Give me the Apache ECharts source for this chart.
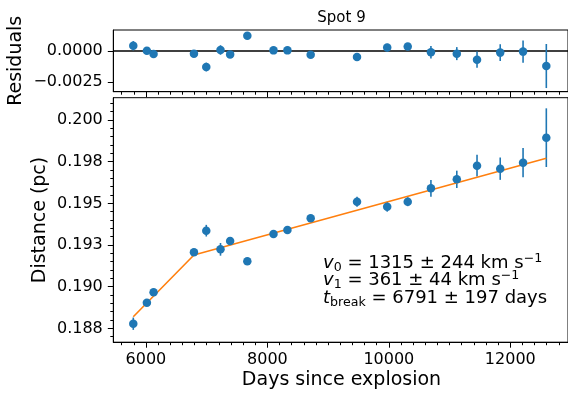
<!DOCTYPE html>
<html><head><meta charset="utf-8">
<script src="https://cdn.jsdelivr.net/npm/echarts@6/dist/echarts.min.js"></script>
<style>html,body{margin:0;padding:0;background:#fff}#c{width:568px;height:393px}</style>
</head><body><div id="c"></div>
<script>
// ---- data ----
const days = [5792, 6016, 6126, 6791, 6994, 7228, 7387, 7670, 8101, 8330, 8713, 9476, 9973, 10311, 10693, 11119, 11452, 11834, 12210, 12593];
const distance = [0.18778, 0.18904, 0.18966, 0.19206, 0.19336, 0.19224, 0.19274, 0.19152, 0.19316, 0.19340, 0.19410, 0.19510, 0.19480, 0.19510, 0.19590, 0.19644, 0.19726, 0.19708, 0.19744, 0.19894];
const distErr = [0.00037, 0.0002, 0.0002, 0.0002, 0.00035, 0.00038, 0.0002, 0.0002, 0.00012, 0.00012, 0.00015, 0.0003, 0.0003, 0.00027, 0.0005, 0.00052, 0.00065, 0.00067, 0.00088, 0.00176];
const residuals = [0.00042, 0.00002, -0.00024, -0.00021, -0.00128, 0.00008, -0.00027, 0.00122, 0.00005, 0.00005, -0.0003, -0.00048, 0.00027, 0.00035, -0.0001, -0.00021, -0.00069, -0.00013, -0.00005, -0.0012];
const fitDays = [5792, 6791, 12593];
const fitDist = [0.1882, 0.1919, 0.1977];

const xTicks = [6000, 8000, 10000, 12000];
const xTickLabels = ['6000', '8000', '10000', '12000'];
const yTicks = [0.1875, 0.19, 0.1925, 0.195, 0.1975, 0.2];
const yTickLabels = ['0.188', '0.190', '0.193', '0.195', '0.198', '0.200'];
const rTicks = [-0.0025, 0];
const rTickLabels = ['\u22120.0025', '0.0000'];

// ---- layout ----
const X_MIN = 5463, X_MAX = 12950;
const Y_MIN = 0.18667, Y_MAX = 0.201338;
const R_MIN = -0.003251, R_MAX = 0.001677;
const FONT = 'DejaVu Sans';
const BLUE = '#1f77b4', ORANGE = '#ff7f0e';
const GRID_LEFT = 113.3, LABEL_MARGIN = 10.5;

const xMinor = []; for (let v = 5600; v <= 12800; v += 200) xMinor.push(v);
const yMinor = []; for (let k = 0; k <= 30; k++) { const v = +(0.187 + k * 0.0005).toFixed(4); if (v > Y_MIN && v < Y_MAX) yMinor.push(v); }

function pickLabel(vals, labels) {
  return function (v) {
    v = Number(v);
    let bi = 0, bd = Infinity;
    vals.forEach((t, i) => { const d = Math.abs(t - v); if (d < bd) { bd = d; bi = i; } });
    return labels[bi];
  };
}

const chart = echarts.init(document.getElementById('c'), null, { renderer: 'canvas' });

function xAxisMajor(grid, showLabels) {
  return {
    type: 'value', gridIndex: grid, min: X_MIN, max: X_MAX, position: 'bottom',
    axisLine: { show: true, onZero: false, lineStyle: { color: '#000', width: 1 } },
    axisTick: { show: true, length: 5.5, customValues: xTicks, lineStyle: { color: '#000', width: 1 } },
    axisLabel: { show: showLabels, customValues: xTicks, formatter: pickLabel(xTicks, xTickLabels), margin: 10,
      color: '#000', fontFamily: FONT, fontSize: 16 },
    splitLine: { show: false }
  };
}
function xAxisMinor(grid) {
  return {
    type: 'value', gridIndex: grid, min: X_MIN, max: X_MAX, position: 'bottom',
    axisLine: { show: false, onZero: false },
    axisTick: { show: true, length: 3, customValues: xMinor, lineStyle: { color: '#000', width: 1 } },
    axisLabel: { show: false }, splitLine: { show: false }
  };
}

const errRender = (params, api) => {
  const x = api.value(0), y = api.value(1), e = api.value(2);
  const p1 = api.coord([x, y - e]), p2 = api.coord([x, y + e]);
  return { type: 'line', shape: { x1: p1[0], y1: p1[1], x2: p2[0], y2: p2[1] },
    style: { stroke: BLUE, lineWidth: 1.6 } };
};

const baseGraphics = [
  { type: 'text', x: 341.5, y: 18, style: { text: 'Spot 9', fontFamily: FONT, fontSize: 15, fill: '#000',
    textAlign: 'center', textVerticalAlign: 'middle' } },
  { type: 'text', x: 16, y: 60.8, rotation: Math.PI / 2, style: { text: 'Residuals', fontFamily: FONT, fontSize: 19,
    fill: '#000', textAlign: 'center', textVerticalAlign: 'middle' } },
  { type: 'text', x: 40, y: 220, rotation: Math.PI / 2, style: { text: 'Distance (pc)', fontFamily: FONT, fontSize: 19,
    fill: '#000', textAlign: 'center', textVerticalAlign: 'middle' } },
  { type: 'text', x: 341.5, y: 380.5, style: { text: 'Days since explosion', fontFamily: FONT, fontSize: 19,
    fill: '#000', textAlign: 'center', textVerticalAlign: 'middle' } },
  ...[
    ['{it|v}{sub|0} = 1315 \u00b1 244 km s{sup|\u22121}', 263],
    ['{it|v}{sub|1} = 361 \u00b1 44 km s{sup|\u22121}', 280.5],
    ['{it|t}{sub|break} = 6791 \u00b1 197 days', 298]
  ].map(([t, y]) => ({
    type: 'text', x: 323, y: y, z: 10,
    style: {
      text: t, fontFamily: FONT, fontSize: 18, fill: '#000', textAlign: 'left', textVerticalAlign: 'middle',
      rich: {
        it: { fontFamily: FONT, fontSize: 18, fontStyle: 'italic', fill: '#000', lineHeight: 22, verticalAlign: 'middle' },
        sub: { fontFamily: FONT, fontSize: 12.6, fill: '#000', lineHeight: 12, verticalAlign: 'bottom' },
        sup: { fontFamily: FONT, fontSize: 12.6, fill: '#000', lineHeight: 12, verticalAlign: 'top' }
      }
    }
  }))
];

const option = {
  animation: false,
  backgroundColor: '#fff',
  grid: [
    { left: GRID_LEFT, top: 30, width: 456.3, height: 61.7, show: true, borderColor: '#000', borderWidth: 1 },
    { left: GRID_LEFT, top: 97.7, width: 456.3, height: 244.5, show: true, borderColor: '#000', borderWidth: 1 }
  ],
  xAxis: [xAxisMajor(0, false), xAxisMinor(0), xAxisMajor(1, true), xAxisMinor(1)],
  yAxis: [
    { type: 'value', gridIndex: 0, min: R_MIN, max: R_MAX,
      axisLine: { show: true, onZero: false, lineStyle: { color: '#000', width: 1 } },
      axisTick: { show: true, length: 5.5, customValues: rTicks, lineStyle: { color: '#000' } },
      axisLabel: { show: false },
      splitLine: { show: false } },
    { type: 'value', gridIndex: 1, min: Y_MIN, max: Y_MAX,
      axisLine: { show: true, onZero: false, lineStyle: { color: '#000', width: 1 } },
      axisTick: { show: true, length: 5.5, customValues: yTicks, lineStyle: { color: '#000' } },
      axisLabel: { customValues: yTicks, formatter: pickLabel(yTicks, yTickLabels), margin: LABEL_MARGIN,
        color: '#000', fontFamily: FONT, fontSize: 16 },
      splitLine: { show: false } },
    { type: 'value', gridIndex: 1, min: Y_MIN, max: Y_MAX, position: 'left',
      axisLine: { show: false, onZero: false },
      axisTick: { show: true, length: 3, customValues: yMinor, lineStyle: { color: '#000', width: 1 } },
      axisLabel: { show: false }, splitLine: { show: false } }
  ],
  series: [
    { type: 'line', xAxisIndex: 0, yAxisIndex: 0, data: [[X_MIN, 0], [X_MAX, 0]], symbol: 'none',
      lineStyle: { color: '#000', width: 1.6 }, silent: true, z: 1 },
    { type: 'custom', xAxisIndex: 0, yAxisIndex: 0, renderItem: errRender,
      data: days.map((d, i) => [d, residuals[i], distErr[i]]), encode: { x: 0, y: 1 }, silent: true, z: 2 },
    { type: 'scatter', xAxisIndex: 0, yAxisIndex: 0, data: days.map((d, i) => [d, residuals[i]]),
      symbolSize: 8.5, itemStyle: { color: BLUE, opacity: 1 }, silent: true, z: 3 },
    { type: 'custom', xAxisIndex: 2, yAxisIndex: 1, renderItem: errRender,
      data: days.map((d, i) => [d, distance[i], distErr[i]]), encode: { x: 0, y: 1 }, silent: true, z: 2 },
    { type: 'line', xAxisIndex: 2, yAxisIndex: 1, data: fitDays.map((d, i) => [d, fitDist[i]]), symbol: 'none',
      lineStyle: { color: ORANGE, width: 1.6 }, silent: true, z: 2 },
    { type: 'scatter', xAxisIndex: 2, yAxisIndex: 1, data: days.map((d, i) => [d, distance[i]]),
      symbolSize: 8.5, itemStyle: { color: BLUE, opacity: 1 }, silent: true, z: 3 }
  ],
  graphic: baseGraphics
};
chart.setOption(option);

// residual-axis tick labels, placed through the residual y axis scale
const residualLabels = rTicks.map((v, i) => ({
  type: 'text', x: GRID_LEFT - LABEL_MARGIN, y: chart.convertToPixel({ yAxisIndex: 0 }, v),
  style: { text: rTickLabels[i], fontFamily: FONT, fontSize: 16, fill: '#000',
    textAlign: 'right', textVerticalAlign: 'middle' }
}));
chart.setOption({ graphic: baseGraphics.concat(residualLabels) });
</script>
</body></html>
